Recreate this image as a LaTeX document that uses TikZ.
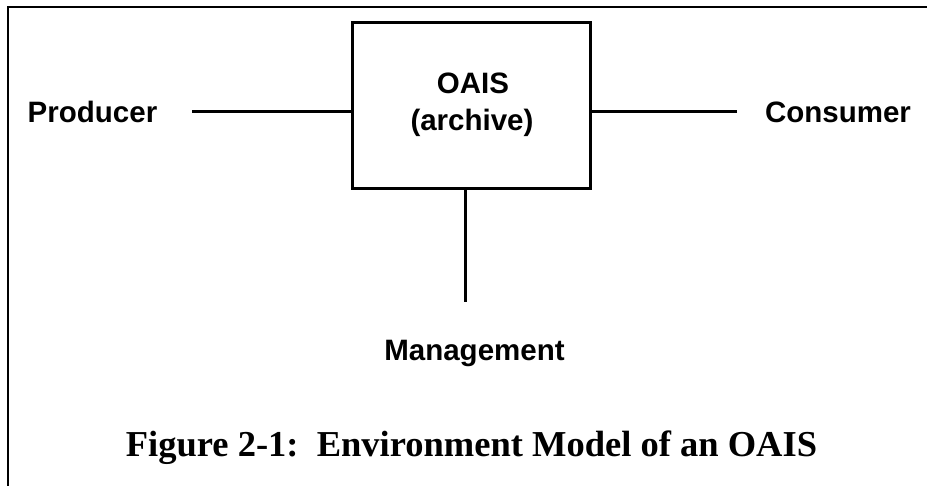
\documentclass[tikz,border=0pt]{standalone}
\usepackage{fontspec}
\setmainfont{Liberation Serif}
\newfontfamily\labelfont{Liberation Sans}
\begin{document}
\begin{tikzpicture}[x=1pt,y=-1pt,
  entity/.style={font=\labelfont\bfseries\fontsize{29.5}{34}\selectfont, inner sep=0pt, anchor=base},
  archivebox/.style={draw, line width=3pt, minimum width=238.5pt, minimum height=165.6pt, inner sep=0pt},
  link/.style={line width=2.5pt},
  frameline/.style={line width=2pt}]
  \useasboundingbox (0,0) rectangle (927,485);

  % page frame (top and left edges)
  \draw[frameline] (8,486) -- (8,6.8) -- (928,6.8);

  % central archive
  \node[archivebox] (oais) at (471.5,105.5) {};
  \node[entity] (oaisname) at (473,93.3) {OAIS};
  \node[entity] (oaissub) at (472,130.5) {(archive)};

  % environment entities
  \node[entity] (producer) at (92.5,122.8) {Producer};
  \node[entity] (consumer) at (838,122.3) {Consumer};
  \node[entity] (management) at (474.5,360) {Management};

  % free ends of the connectors
  \coordinate (pend) at (192,111.7);
  \coordinate (cend) at (737,111.7);
  \coordinate (mend) at (465.5,301.7);

  % connectors
  \draw[link] (pend) -- (pend -| oais.west);
  \draw[link] (cend) -- (cend -| oais.east);
  \draw[link] (mend) -- (mend |- oais.south);

  % caption
  \node[font=\bfseries\fontsize{36.5}{40}\selectfont, inner sep=0pt, anchor=base] (caption)
    at (471.5,456) {Figure 2-1:\ \ Environment Model of an OAIS};
\end{tikzpicture}
\end{document}
